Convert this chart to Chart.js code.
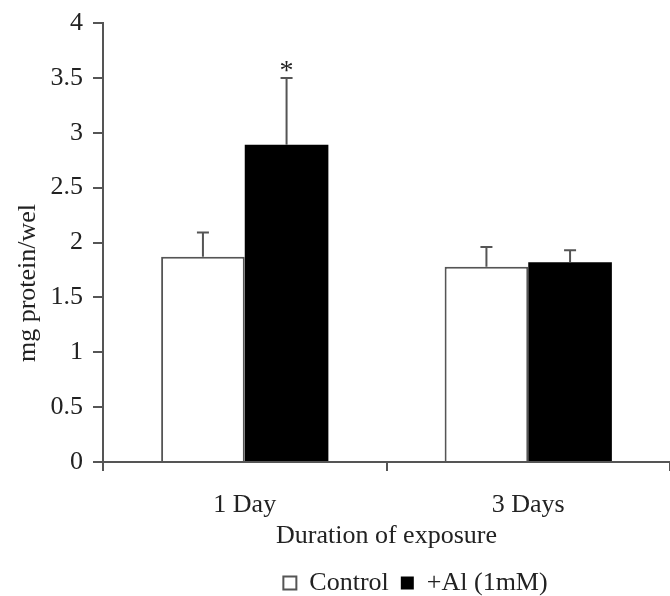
<!DOCTYPE html>
<html>
<head>
<meta charset="utf-8">
<script src="https://cdn.jsdelivr.net/npm/chart.js@4.4.1/dist/chart.umd.min.js"></script>
<style>
  body { margin: 0; background: #fff; }
  #wrap { width: 670px; height: 596px; }
</style>
</head>
<body>
<div id="wrap"><canvas id="barChart" width="670" height="596"></canvas></div>
<script>
// data
const categories = ['1 Day', '3 Days'];
const controlValues = [1.87, 1.78];
const controlErr = [0.22, 0.18];
const alValues = [2.89, 1.82];
const alErr = [0.61, 0.11];
const alMarks = ['*', ''];
const yTicks = [0, 0.5, 1, 1.5, 2, 2.5, 3, 3.5, 4];

const axisColor = '#555';
const textColor = '#222';
const serif = 'Liberation Serif, Times New Roman, serif';

// error bars (upper half only) + significance mark + rotated y title
const errorBars = {
  id: 'errorBars',
  afterLayout(chart) {
    // legend in the original sits a bit right of centre and low
    chart.legend.left += 58;
    chart.legend.top = 558;
  },
  afterDatasetsDraw(chart) {
    const ctx = chart.ctx;
    const y = chart.scales.y;
    const errs = [controlErr, alErr];
    ctx.save();
    ctx.strokeStyle = axisColor;
    ctx.lineWidth = 2;
    chart.data.datasets.forEach(function (ds, i) {
      const meta = chart.getDatasetMeta(i);
      meta.data.forEach(function (bar, j) {
        const top = y.getPixelForValue(ds.data[j] + errs[i][j]);
        ctx.beginPath();
        ctx.moveTo(bar.x, bar.y);
        ctx.lineTo(bar.x, top);
        ctx.moveTo(bar.x - 6, top);
        ctx.lineTo(bar.x + 6, top);
        ctx.stroke();
        if (i === 1 && alMarks[j]) {
          ctx.fillStyle = textColor;
          ctx.font = '28px ' + serif;
          ctx.textAlign = 'center';
          ctx.textBaseline = 'alphabetic';
          ctx.fillText(alMarks[j], bar.x, top + 1);
        }
      });
    });
    ctx.translate(28, 283);
    ctx.rotate(-Math.PI / 2);
    ctx.fillStyle = textColor;
    ctx.font = '26px ' + serif;
    ctx.textAlign = 'center';
    ctx.textBaseline = 'middle';
    ctx.fillText('mg protein/wel', 0, 0);
    ctx.restore();
  }
};

const ctx = document.getElementById('barChart').getContext('2d');
const barChart = new Chart(ctx, {
  type: 'bar',
  data: {
    labels: categories,
    datasets: [{
      label: 'Control',
      data: controlValues,
      backgroundColor: '#fff',
      borderColor: axisColor,
      borderWidth: 2,
      borderSkipped: 'bottom'
    }, {
      label: '+Al (1mM)',
      data: alValues,
      backgroundColor: '#000',
      borderColor: '#000',
      borderWidth: 0
    }]
  },
  options: {
    responsive: false,
    animation: false,
    layout: { padding: { top: 2, right: 0, left: 0, bottom: 0 } },
    datasets: { bar: { barPercentage: 1, categoryPercentage: 0.59 } },
    scales: {
      x: {
        afterFit: function (scale) { scale.height = 94; },
        grid: { drawOnChartArea: false, drawTicks: true, tickLength: 9, color: axisColor, lineWidth: 2 },
        border: { color: axisColor, width: 2 },
        ticks: { color: textColor, font: { family: serif, size: 26 }, padding: 19 },
        title: { display: true, text: 'Duration of exposure', color: textColor, font: { family: serif, size: 26 }, padding: { top: 0, bottom: 4 } }
      },
      y: {
        min: 0,
        max: 4,
        afterBuildTicks: function (scale) {
          scale.ticks = yTicks.map(function (v) { return { value: v }; });
        },
        afterFit: function (scale) { scale.width = 103; },
        grid: { drawOnChartArea: false, drawTicks: true, tickLength: 10, color: axisColor, lineWidth: 2 },
        border: { color: axisColor, width: 2 },
        ticks: {
          color: textColor,
          font: { family: serif, size: 26, lineHeight: 1 },
          padding: 10,
          callback: function (v) { return String(v); }
        }
      }
    },
    plugins: {
      legend: {
        position: 'bottom',
        fullSize: false,
        maxHeight: 40,
        labels: {
          color: textColor,
          font: { family: serif, size: 26 },
          boxWidth: 13,
          boxHeight: 13,
          padding: 12
        }
      },
      tooltip: { enabled: false }
    }
  },
  plugins: [errorBars]
});
</script>
</body>
</html>
